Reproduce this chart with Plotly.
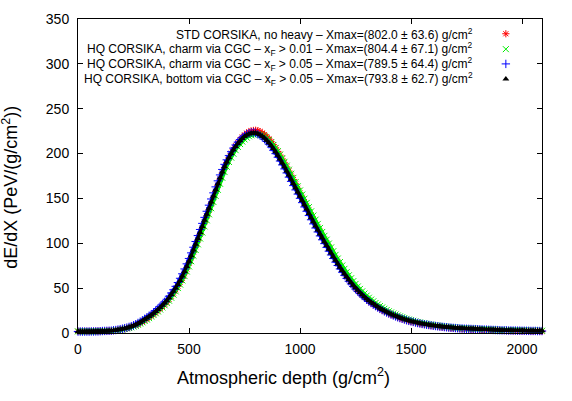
import plotly.graph_objects as go

# atmospheric depth grid (g/cm^2), one profile point every 10 g/cm^2
depth = list(range(0, 2100, 10))

std_no_heavy = [
    1.8, 1.8, 1.8, 1.8, 1.8, 1.8, 1.8, 1.9, 1.9, 2.0,
    2.0, 2.1, 2.2, 2.3, 2.4, 2.5, 2.7, 3.0, 3.3, 3.8,
    4.3, 4.8, 5.4, 6.1, 6.8, 7.6, 8.6, 9.9, 11.2, 12.7,
    14.2, 15.8, 17.5, 19.2, 21.1, 23.0, 25.1, 27.4, 29.7, 32.2,
    34.7, 37.7, 41.1, 44.6, 48.3, 52.1, 56.3, 61.0, 66.0, 71.4,
    77.8, 83.9, 90.2, 96.6, 103.1, 109.7, 116.6, 123.4, 130.2, 137.1,
    144.0, 150.9, 157.8, 164.7, 171.5, 178.2, 184.4, 190.1, 195.3, 200.1,
    204.6, 208.7, 212.4, 215.6, 218.5, 220.9, 222.8, 224.2, 225.2, 225.8,
    226.0, 225.5, 224.5, 223.0, 221.1, 218.9, 216.2, 213.2, 209.9, 206.3,
    202.4, 198.3, 194.0, 189.6, 185.1, 180.5, 175.8, 171.0, 166.2, 161.3,
    156.0, 151.3, 146.5, 141.6, 136.8, 132.0, 127.2, 122.5, 117.9, 113.4,
    108.8, 104.5, 100.1, 95.9, 91.7, 87.4, 83.2, 79.1, 75.1, 71.2,
    67.3, 63.6, 60.1, 56.8, 53.6, 50.6, 47.8, 45.1, 42.6, 40.2,
    38.0, 35.9, 33.9, 32.1, 30.4, 28.8, 27.3, 25.8, 24.4, 23.1,
    21.9, 20.7, 19.6, 18.6, 17.6, 16.7, 15.8, 15.0, 14.2, 13.5,
    12.8, 12.2, 11.6, 11.0, 10.5, 10.0, 9.5, 9.1, 8.7, 8.3,
    7.9, 7.6, 7.3, 7.0, 6.7, 6.4, 6.2, 5.9, 5.7, 5.5,
    5.3, 5.1, 4.9, 4.8, 4.6, 4.5, 4.4, 4.3, 4.2, 4.1,
    4.0, 3.9, 3.8, 3.6, 3.5, 3.4, 3.3, 3.2, 3.1, 3.0,
    2.9, 2.8, 2.8, 2.7, 2.6, 2.6, 2.5, 2.5, 2.4, 2.4,
    2.3, 2.3, 2.2, 2.2, 2.1, 2.1, 2.1, 2.0, 2.0, 2.0,
]

charm_xf001 = [
    1.8, 1.8, 1.8, 1.8, 1.8, 1.8, 1.8, 1.8, 1.9, 1.9,
    2.0, 2.0, 2.1, 2.2, 2.3, 2.4, 2.5, 2.8, 3.1, 3.5,
    4.0, 4.5, 5.1, 5.7, 6.4, 7.2, 8.0, 9.2, 10.5, 11.9,
    13.4, 15.0, 16.6, 18.3, 20.1, 22.0, 24.0, 26.2, 28.5, 30.9,
    33.4, 36.0, 39.3, 42.8, 46.4, 50.1, 54.0, 58.6, 63.4, 68.6,
    74.2, 80.0, 86.2, 92.5, 98.8, 105.3, 112.0, 118.8, 125.6, 132.3,
    139.1, 146.0, 152.8, 159.6, 166.3, 173.0, 179.4, 185.3, 190.6, 195.5,
    199.8, 203.8, 207.4, 210.6, 213.4, 215.8, 217.8, 219.3, 220.4, 221.1,
    221.4, 221.5, 221.1, 220.2, 219.0, 217.2, 215.0, 212.4, 209.5, 206.3,
    202.7, 199.0, 195.0, 190.8, 186.5, 182.0, 177.5, 172.9, 168.2, 163.5,
    158.9, 154.3, 149.7, 145.0, 140.3, 135.6, 130.9, 126.3, 121.6, 117.1,
    112.6, 108.3, 104.0, 99.7, 95.4, 91.2, 87.1, 83.0, 79.1, 75.2,
    71.5, 67.8, 64.3, 61.0, 57.8, 54.7, 51.8, 49.1, 46.4, 43.9,
    41.6, 39.3, 37.2, 35.3, 33.4, 31.7, 30.0, 28.5, 27.0, 25.5,
    24.2, 22.9, 21.7, 20.6, 19.5, 18.5, 17.6, 16.7, 15.8, 15.0,
    14.3, 13.6, 12.9, 12.3, 11.7, 11.2, 10.7, 10.2, 9.7, 9.3,
    8.9, 8.5, 8.2, 7.9, 7.6, 7.3, 7.0, 6.7, 6.5, 6.2,
    6.0, 5.8, 5.6, 5.4, 5.3, 5.1, 5.0, 4.9, 4.8, 4.7,
    4.6, 4.5, 4.4, 4.3, 4.1, 4.0, 3.9, 3.8, 3.7, 3.6,
    3.5, 3.4, 3.3, 3.2, 3.2, 3.1, 3.0, 3.0, 2.9, 2.9,
    2.8, 2.8, 2.7, 2.7, 2.6, 2.6, 2.5, 2.5, 2.5, 2.5,
]

charm_xf005 = [
    1.6, 1.6, 1.6, 1.6, 1.6, 1.6, 1.7, 1.7, 1.8, 1.8,
    2.0, 2.2, 2.3, 2.4, 2.5, 2.6, 3.0, 3.3, 3.8, 4.3,
    4.8, 5.4, 6.0, 6.8, 7.6, 8.6, 9.8, 11.2, 12.6, 14.2,
    15.8, 17.4, 19.2, 21.0, 23.0, 25.1, 27.3, 29.7, 32.1, 34.7,
    37.6, 41.0, 44.6, 48.2, 52.0, 56.3, 61.0, 66.0, 71.4, 77.1,
    83.1, 89.3, 95.6, 102.0, 108.6, 115.4, 122.2, 128.9, 135.7, 142.5,
    149.4, 156.2, 162.9, 169.6, 176.2, 182.3, 188.0, 193.0, 197.7, 202.1,
    206.1, 209.6, 212.8, 215.6, 218.0, 219.8, 221.6, 222.7, 223.4, 223.6,
    223.0, 221.5, 220.1, 218.3, 216.1, 213.5, 210.5, 207.3, 203.7, 199.9,
    195.9, 191.7, 187.4, 182.9, 178.4, 173.7, 169.0, 164.3, 159.5, 154.8,
    150.1, 145.3, 140.5, 135.7, 130.9, 126.2, 121.6, 117.0, 112.6, 108.2,
    103.9, 99.6, 95.4, 91.2, 87.0, 83.0, 79.0, 75.2, 71.4, 67.8,
    64.3, 60.9, 57.7, 54.7, 51.8, 49.0, 46.4, 43.9, 41.5, 39.3,
    37.2, 35.2, 33.4, 31.6, 30.0, 28.4, 26.9, 25.5, 24.1, 22.9,
    21.7, 20.5, 19.5, 18.5, 17.5, 16.6, 15.8, 15.0, 14.2, 13.5,
    12.9, 12.3, 11.7, 11.1, 10.6, 10.1, 9.7, 9.3, 8.9, 8.5,
    8.1, 7.8, 7.5, 7.2, 6.9, 6.6, 6.4, 6.1, 5.9, 5.7,
    5.5, 5.3, 5.1, 5.0, 4.8, 4.7, 4.6, 4.5, 4.4, 4.3,
    4.2, 4.1, 4.0, 3.8, 3.7, 3.6, 3.5, 3.4, 3.3, 3.2,
    3.1, 3.0, 3.0, 2.9, 2.8, 2.8, 2.7, 2.7, 2.6, 2.6,
    2.5, 2.5, 2.4, 2.4, 2.3, 2.3, 2.3, 2.2, 2.2, 2.2,
]

bottom_xf005 = [
    1.8, 1.8, 1.8, 1.8, 1.8, 1.8, 1.8, 1.9, 1.9, 2.0,
    2.0, 2.1, 2.2, 2.3, 2.4, 2.5, 2.8, 3.1, 3.5, 4.0,
    4.5, 5.1, 5.7, 6.4, 7.2, 8.0, 9.2, 10.5, 11.9, 13.4,
    15.0, 16.6, 18.3, 20.1, 22.0, 24.0, 26.2, 28.5, 30.9, 33.4,
    36.0, 39.3, 42.8, 46.4, 50.1, 54.0, 58.6, 63.4, 68.6, 74.2,
    80.0, 86.2, 92.5, 98.8, 105.3, 112.0, 118.8, 125.6, 132.3, 139.1,
    146.0, 152.8, 159.6, 166.3, 173.0, 179.4, 185.3, 190.6, 195.5, 200.0,
    204.2, 208.0, 211.3, 214.3, 216.9, 219.0, 220.6, 221.8, 222.6, 223.0,
    222.8, 222.1, 220.9, 219.3, 217.3, 214.9, 212.1, 209.0, 205.6, 201.9,
    198.0, 193.9, 189.6, 185.2, 180.7, 176.1, 171.4, 166.7, 161.9, 157.1,
    152.5, 147.7, 142.9, 138.1, 133.3, 128.6, 123.9, 119.3, 114.8, 110.4,
    106.1, 101.8, 97.5, 93.3, 89.1, 85.0, 81.0, 77.1, 73.3, 69.6,
    66.0, 62.6, 59.3, 56.2, 53.2, 50.4, 47.7, 45.1, 42.7, 40.4,
    38.2, 36.2, 34.3, 32.5, 30.8, 29.2, 27.7, 26.2, 24.8, 23.5,
    22.3, 21.1, 20.0, 19.0, 18.0, 17.1, 16.2, 15.4, 14.6, 13.9,
    13.2, 12.6, 12.0, 11.4, 10.9, 10.4, 9.9, 9.5, 9.1, 8.7,
    8.3, 8.0, 7.7, 7.4, 7.1, 6.8, 6.6, 6.3, 6.1, 5.9,
    5.7, 5.5, 5.3, 5.2, 5.0, 4.9, 4.8, 4.7, 4.6, 4.5,
    4.4, 4.3, 4.2, 4.0, 3.9, 3.8, 3.7, 3.6, 3.5, 3.4,
    3.3, 3.2, 3.2, 3.1, 3.0, 3.0, 2.9, 2.9, 2.8, 2.8,
    2.7, 2.7, 2.6, 2.6, 2.5, 2.5, 2.5, 2.4, 2.4, 2.4,
]

labels = [
    "STD CORSIKA, no heavy \u2013 Xmax=(802.0 \u00b1 63.6) g/cm<sup>2</sup>",
    "HQ CORSIKA, charm via CGC \u2013 x<sub>F</sub> > 0.01 \u2013 Xmax=(804.4 \u00b1 67.1) g/cm<sup>2</sup>",
    "HQ CORSIKA, charm via CGC \u2013 x<sub>F</sub> > 0.05 \u2013 Xmax=(789.5 \u00b1 64.4) g/cm<sup>2</sup>",
    "HQ CORSIKA, bottom via CGC \u2013 x<sub>F</sub> > 0.05 \u2013 Xmax=(793.8 \u00b1 62.7) g/cm<sup>2</sup>",
]
series = [std_no_heavy, charm_xf001, charm_xf005, bottom_xf005]
colors = ["#ff0000", "#00ee00", "#0000ff", "#000000"]
symbols = ["asterisk", "x-thin", "cross-thin", "triangle-up"]
legend_ids = ["legend", "legend2", "legend3", "legend4"]
legend_y = [0.953, 0.904, 0.857, 0.809]

font = "Liberation Sans, Arial, sans-serif"

fig = go.Figure()
for vals, col, sym, lid in zip(series, colors, symbols, legend_ids):
    # thin band underneath so the dense points read as a solid track
    fig.add_trace(go.Scatter(x=depth, y=vals, mode="lines", showlegend=False,
                             line=dict(color=col, width=3), cliponaxis=False,
                             hoverinfo="skip"))
    if sym == "triangle-up":
        marker = dict(symbol=sym, size=6, color=col, line=dict(width=0))
    else:
        marker = dict(symbol=sym, size=6, color=col, line=dict(color=col, width=1))
    fig.add_trace(go.Scatter(x=depth, y=vals, mode="markers", marker=marker,
                             name=" ", legend=lid, cliponaxis=False))

layout_legends = {}
for lid, ly in zip(legend_ids, legend_y):
    layout_legends[lid] = dict(x=0.879, y=ly, xanchor="left", yanchor="middle",
                               bgcolor="rgba(0,0,0,0)", borderwidth=0,
                               font=dict(size=12, family=font))

annotations = [
    dict(text=lab, x=0.856, y=ly, xref="paper", yref="paper", xanchor="right",
         yanchor="middle", showarrow=False, font=dict(size=12, family=font, color="black"))
    for lab, ly in zip(labels, legend_y)
]
annotations.append(dict(text="Atmospheric depth (g/cm<sup>2</sup>)", x=0.442, y=-0.14,
                        xref="paper", yref="paper", xanchor="center", yanchor="middle",
                        showarrow=False, font=dict(size=18, family=font, color="black")))
annotations.append(dict(text="dE/dX (PeV/(g/cm<sup>2</sup>))", x=-0.145, y=0.465,
                        xref="paper", yref="paper", xanchor="center", yanchor="middle",
                        textangle=-90, showarrow=False,
                        font=dict(size=18, family=font, color="black")))

axis_style = dict(showline=True, linecolor="black", linewidth=1, mirror="ticks",
                  ticks="inside", ticklen=5, tickcolor="black", showgrid=False,
                  zeroline=False, automargin=False,
                  tickfont=dict(size=14, family=font, color="black"))

fig.update_layout(
    width=572, height=401,
    margin=dict(l=78, r=30, t=19, b=68),
    plot_bgcolor="white", paper_bgcolor="white",
    showlegend=True,
    annotations=annotations,
    xaxis=dict(range=[0, 2090], tickvals=[0, 500, 1000, 1500, 2000],
               ticklabelstandoff=3, **axis_style),
    yaxis=dict(range=[0, 350], dtick=50, ticklabelstandoff=5, **axis_style),
    **layout_legends,
)

# the page's default body margin would shift the figure inside the window
fig.write_html("out.html", config={"displayModeBar": False},
               post_script="document.body.style.margin='0';")
